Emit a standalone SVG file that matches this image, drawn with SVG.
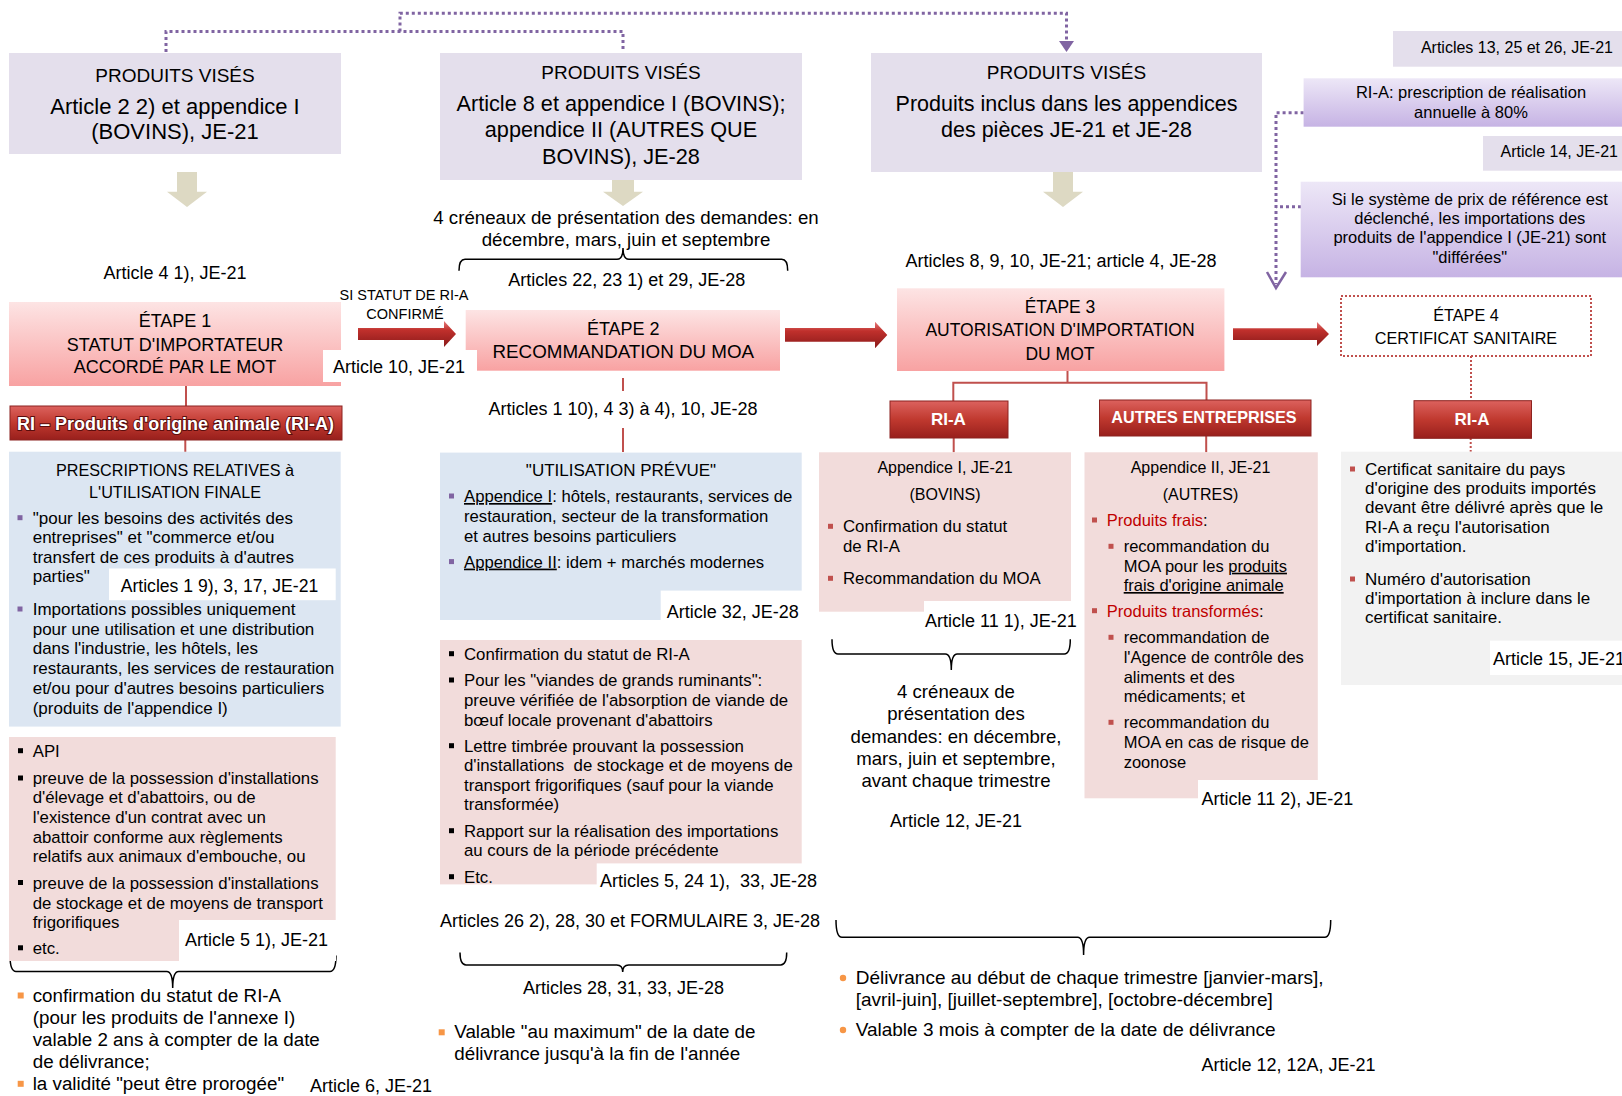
<svg xmlns="http://www.w3.org/2000/svg" width="1622" height="1096" viewBox="0 0 1622 1096">
<style>
text{font-family:"Liberation Sans",Arial,sans-serif;fill:#000}
.c{text-anchor:middle}
.e{text-anchor:end}
.lav{fill:#e4dfec}
.blue{fill:#dce6f2}
.pink{fill:#f2dcdb}
.grey{fill:#f2f2f2}
.wl{fill:#fff}
.etape{fill:url(#gEtape)}
.pg{fill:url(#gPurple)}
.rbox{fill:url(#gRed);stroke:#8c2320;stroke-width:1}
.rt{fill:#fff;font-weight:bold;text-anchor:middle}
.pd{fill:none;stroke:#8064a2;stroke-width:3;stroke-dasharray:3 3}
.rl{fill:none;stroke:#c0504d;stroke-width:2}
.rd{fill:none;stroke:#c0504d;stroke-width:2;stroke-dasharray:2 2}
.br{fill:none;stroke:#000;stroke-width:1.5}
.ra{fill:url(#gArrow)}
.ba{fill:#ddd9c3}
.bp{fill:#8064a2}
.bk{fill:#000}
.brd{fill:#c0504d}
.bo{fill:#f79646}
.red{fill:#c00000}
.u{text-decoration:underline}
.a18{font-size:18px}
.b17{font-size:17px}
</style>
<defs>
<linearGradient id="gEtape" x1="0" y1="0" x2="0" y2="1"><stop offset="0" stop-color="#fde4e4"/><stop offset="1" stop-color="#f8a2a2"/></linearGradient>
<linearGradient id="gPurple" x1="0" y1="0" x2="0" y2="1"><stop offset="0" stop-color="#ede7f7"/><stop offset="1" stop-color="#c6b3e4"/></linearGradient>
<linearGradient id="gRed" x1="0" y1="0" x2="0" y2="1"><stop offset="0" stop-color="#dc625e"/><stop offset="0.5" stop-color="#c0392f"/><stop offset="1" stop-color="#981f1c"/></linearGradient>
<linearGradient id="gArrow" x1="0" y1="0" x2="0" y2="1"><stop offset="0" stop-color="#e57b7b"/><stop offset="0.35" stop-color="#c0302c"/><stop offset="1" stop-color="#8a1a1a"/></linearGradient>
</defs>

<g id="connectors">
  <path class="pd" d="M166,52 V31.5 H623 V52"/>
  <path class="pd" d="M400,31.5 V13.3 H1066.5 V42"/>
  <polygon points="1059,41 1074,41 1066.5,52" fill="#8064a2"/>
  <path class="pd" d="M1303.6,112.7 H1276 V284"/>
  <path class="pd" d="M1301,206.7 H1276"/>
  <path d="M1267,272 L1276,288 L1286,272" fill="none" stroke="#8064a2" stroke-width="2.5"/>
  <polygon class="ba" points="177,172 197,172 197,191.7 207,191.7 187,207 167,191.7 177,191.7"/>
  <polygon class="ba" points="612,180 634,180 634,191.7 643,191.7 623,206 603,191.7 612,191.7"/>
  <polygon class="ba" points="1053,172 1073,172 1073,191.7 1083,191.7 1063,207 1043,191.7 1053,191.7"/>
  <polygon class="ra" points="358,328 444,328 444,321 456,334 444,347 444,340 358,340"/>
  <polygon class="ra" points="785,328 875,328 875,321.7 887.3,335 875,348.3 875,341.7 785,341.7"/>
  <polygon class="ra" points="1233,328.3 1317,328.3 1317,322 1329,334 1317,346 1317,340 1233,340"/>
  <path class="rl" d="M186,386 V406"/>
  <path class="rl" d="M185.3,440 V452"/>
  <path class="rl" d="M623,378 V391 M623,428 V452"/>
  <path class="rl" d="M1067.5,371 V382.7 M953.3,401 V382.7 H1206.5 V400"/>
  <path class="rl" d="M953.7,438 V452.3 M1206.2,436 V452.3"/>
  <path class="rd" d="M1471,356 V400 M1470.7,438 V451.7"/>
  <path class="br" d="M459,270.7 Q459,259.3 465,259.3 L617,259.3 Q623,259.3 623,248 Q623,259.3 629,259.3 L781.7,259.3 Q787.7,259.3 787.7,270.7"/>
  <path class="br" d="M10,955.5 Q10,971.4 16,971.4 L166.7,971.4 Q172.7,971.4 172.7,988 Q172.7,971.4 178.7,971.4 L330,971.4 Q336,971.4 336,955.5"/>
  <path class="br" d="M460,952.6 Q460,965 466,965 L616.7,965 Q622.7,965 622.7,972 Q622.7,965 628.7,965 L780.7,965 Q786.7,965 786.7,952.6"/>
  <path class="br" d="M832,639.3 Q832,654 838,654 L945.3,654 Q951.3,654 951.3,670 Q951.3,654 957.3,654 L1064.3,654 Q1070.3,654 1070.3,639.3"/>
  <path class="br" d="M836,920 Q836,937.3 842,937.3 L1077.6,937.3 Q1083.6,937.3 1083.6,955 Q1083.6,937.3 1089.6,937.3 L1324.7,937.3 Q1330.7,937.3 1330.7,920"/>
</g>

<g id="produits-a">
  <rect class="lav" x="9" y="53" width="332" height="101"/>
  <text class="c" x="175" y="81.7" font-size="19">PRODUITS VISÉS</text>
  <text class="c" x="175" y="114" font-size="22">Article 2 2) et appendice I</text>
  <text class="c" x="175" y="139" font-size="22">(BOVINS), JE-21</text>
</g>
<g id="produits-b">
  <rect class="lav" x="440" y="53" width="362" height="127"/>
  <text class="c" x="621" y="79.3" font-size="19">PRODUITS VISÉS</text>
  <text class="c" x="621" y="111" font-size="21.7">Article 8 et appendice I (BOVINS);</text>
  <text class="c" x="621" y="137.3" font-size="21.7">appendice II (AUTRES QUE</text>
  <text class="c" x="621" y="164.3" font-size="21.7">BOVINS), JE-28</text>
</g>
<g id="produits-c">
  <rect class="lav" x="871" y="53" width="391" height="119"/>
  <text class="c" x="1066.5" y="79" font-size="19">PRODUITS VISÉS</text>
  <text class="c" x="1066.5" y="110.7" font-size="21.5">Produits inclus dans les appendices</text>
  <text class="c" x="1066.5" y="136.7" font-size="21.5">des pièces JE-21 et JE-28</text>
</g>

<g id="art-13-25-26">
  <rect class="lav" x="1393" y="31" width="229" height="35.7"/>
  <text class="e" x="1613" y="53.3" font-size="16">Articles 13, 25 et 26, JE-21</text>
</g>
<g id="ria-prescription">
  <rect class="pg" x="1303.6" y="78.3" width="318.4" height="48.4"/>
  <text class="c" x="1471" y="98.3" font-size="16.5">RI-A: prescription de réalisation</text>
  <text class="c" x="1471" y="118.3" font-size="16.5">annuelle à 80%</text>
</g>
<g id="art-14">
  <rect class="lav" x="1483" y="136" width="139" height="34.7"/>
  <text class="e" x="1618" y="157.3" font-size="16">Article 14, JE-21</text>
</g>
<g id="prix-reference">
  <rect class="pg" x="1300.7" y="181.7" width="321.3" height="95.6"/>
  <text class="c" x="1469.8" y="205" font-size="16.5">Si le système de prix de référence est</text>
  <text class="c" x="1469.8" y="224.3" font-size="16.5">déclenché, les importations des</text>
  <text class="c" x="1469.8" y="243.3" font-size="16.5">produits de l'appendice I (JE-21) sont</text>
  <text class="c" x="1469.8" y="263.3" font-size="16.5">"différées"</text>
</g>

<g id="lbl-art4">
  <text class="c a18" x="175" y="279">Article 4 1), JE-21</text>
</g>
<g id="lbl-creneaux-top">
  <text class="c" x="626" y="224" font-size="18.7">4 créneaux de présentation des demandes: en</text>
  <text class="c" x="626" y="245.7" font-size="18.7">décembre, mars, juin et septembre</text>
  <text class="c a18" x="626.7" y="286">Articles 22, 23 1) et 29, JE-28</text>
</g>
<g id="lbl-art8-9-10">
  <text class="c a18" x="1061" y="266.7">Articles 8, 9, 10, JE-21; article 4, JE-28</text>
</g>
<g id="lbl-confirme">
  <text class="c" x="404" y="300" font-size="14.5">SI STATUT DE RI-A</text>
  <text class="c" x="405" y="319.3" font-size="14.5">CONFIRMÉ</text>
</g>

<g id="etape1">
  <rect class="etape" x="9" y="302" width="332" height="84"/>
  <text class="c a18" x="175" y="326.7">ÉTAPE 1</text>
  <text class="c a18" x="175" y="350.7">STATUT D'IMPORTATEUR</text>
  <text class="c a18" x="175" y="373.3">ACCORDÉ PAR LE MOT</text>
</g>
<g id="etape2">
  <rect class="etape" x="465.7" y="310" width="314.3" height="60.7"/>
  <text class="c a18" x="623.3" y="335">ÉTAPE 2</text>
  <text class="c" x="623.3" y="357.7" font-size="18.8">RECOMMANDATION DU MOA</text>
</g>
<g id="lbl-art10">
  <rect class="wl" x="323" y="350" width="154" height="32"/>
  <text class="a18" x="333" y="373">Article 10, JE-21</text>
</g>
<g id="etape3">
  <rect class="etape" x="897" y="288.3" width="327.4" height="82.7"/>
  <text class="c" x="1060" y="312.7" font-size="17.5">ÉTAPE 3</text>
  <text class="c" x="1060" y="336" font-size="17.5">AUTORISATION D'IMPORTATION</text>
  <text class="c" x="1060" y="360" font-size="17.5">DU MOT</text>
</g>
<g id="etape4">
  <rect x="1341" y="296" width="250" height="60" fill="#fff" stroke="#c0504d" stroke-width="2" stroke-dasharray="2 2"/>
  <text class="c" x="1466" y="320.7" font-size="16.2">ÉTAPE 4</text>
  <text class="c" x="1466" y="344" font-size="16.2">CERTIFICAT SANITAIRE</text>
</g>

<g id="ri-produits-bar">
  <rect class="rbox" x="10" y="406" width="332" height="34"/>
  <text x="17" y="430" font-size="19" font-weight="bold" fill="#fff" textLength="317" lengthAdjust="spacingAndGlyphs" style="fill:#fff;stroke:#5a0d0d;stroke-width:2;paint-order:stroke">RI – Produits d'origine animale (RI-A)</text>
</g>
<g id="ria-3">
  <rect class="rbox" x="890" y="401" width="118" height="37"/>
  <text class="rt" x="948.4" y="425" font-size="17">RI-A</text>
</g>
<g id="autres-entreprises">
  <rect class="rbox" x="1099.5" y="400" width="211.5" height="36"/>
  <text class="rt" x="1204" y="423.3" font-size="16.2">AUTRES ENTREPRISES</text>
</g>
<g id="ria-4">
  <rect class="rbox" x="1414" y="400.7" width="117.5" height="37.6"/>
  <text class="rt" x="1472" y="425" font-size="17">RI-A</text>
</g>

<g id="prescriptions-finale">
  <rect class="blue" x="9" y="451.7" width="331.7" height="274.9"/>
  <text class="c" x="175" y="475.6" font-size="16.2">PRESCRIPTIONS RELATIVES à</text>
  <text class="c" x="175" y="497.7" font-size="16.2">L'UTILISATION FINALE</text>
  <rect class="bp" x="17.5" y="515.2" width="5" height="5"/>
  <rect class="bp" x="17.5" y="606.5" width="5" height="5"/>
  <g class="b17">
    <text x="32.7" y="523.7">"pour les besoins des activités des</text>
    <text x="32.7" y="543.3">entreprises" et "commerce et/ou</text>
    <text x="32.7" y="563.4">transfert de ces produits à d'autres</text>
    <text x="32.7" y="582.3">parties"</text>
    <text x="32.7" y="615">Importations possibles uniquement</text>
    <text x="32.7" y="635">pour une utilisation et une distribution</text>
    <text x="32.7" y="654.2">dans l'industrie, les hôtels, les</text>
    <text x="32.7" y="674.3">restaurants, les services de restauration</text>
    <text x="32.7" y="694">et/ou pour d'autres besoins particuliers</text>
    <text x="32.7" y="714">(produits de l'appendice I)</text>
  </g>
</g>
<g id="lbl-art1-9">
  <rect class="wl" x="109" y="568.5" width="226.7" height="31.7"/>
  <text x="120.7" y="591.5" font-size="17.6">Articles 1 9), 3, 17, JE-21</text>
</g>

<g id="conditions-ria">
  <rect class="pink" x="9" y="737" width="326.7" height="224"/>
  <rect class="bk" x="18" y="748.2" width="5" height="5"/>
  <rect class="bk" x="18" y="775.5" width="5" height="5"/>
  <rect class="bk" x="18" y="880" width="5" height="5"/>
  <rect class="bk" x="18" y="945.3" width="5" height="5"/>
  <g font-size="16.8">
    <text x="32.7" y="756.7">API</text>
    <text x="32.7" y="784">preuve de la possession d'installations</text>
    <text x="32.7" y="803.2">d'élevage et d'abattoirs, ou de</text>
    <text x="32.7" y="822.8">l'existence d'un contrat avec un</text>
    <text x="32.7" y="843">abattoir conforme aux règlements</text>
    <text x="32.7" y="861.8">relatifs aux animaux d'embouche, ou</text>
    <text x="32.7" y="888.5">preuve de la possession d'installations</text>
    <text x="32.7" y="908.6">de stockage et de moyens de transport</text>
    <text x="32.7" y="928.3">frigorifiques</text>
    <text x="32.7" y="953.8">etc.</text>
  </g>
</g>
<g id="lbl-art5">
  <rect class="wl" x="179" y="920" width="157" height="41"/>
  <text class="a18" x="185" y="946.3">Article 5 1), JE-21</text>
</g>

<g id="validite-ria">
  <rect class="bo" x="17.7" y="992.5" width="6" height="6"/>
  <rect class="bo" x="17.7" y="1080.8" width="6" height="6"/>
  <g font-size="18.8">
    <text x="32.7" y="1001.5">confirmation du statut de RI-A</text>
    <text x="32.7" y="1023.7">(pour les produits de l'annexe I)</text>
    <text x="32.7" y="1045.9">valable 2 ans à compter de la date</text>
    <text x="32.7" y="1067.6">de délivrance;</text>
    <text x="32.7" y="1089.8">la validité "peut être prorogée"</text>
  </g>
  <text class="a18" x="310" y="1092">Article 6, JE-21</text>
</g>

<g id="lbl-art1-10">
  <text class="c a18" x="623" y="415">Articles 1 10), 4 3) à 4), 10, JE-28</text>
</g>

<g id="utilisation-prevue">
  <rect class="blue" x="440" y="452.6" width="361.7" height="167.4"/>
  <text class="c b17" x="621" y="475.6">"UTILISATION PRÉVUE"</text>
  <rect class="bp" x="449" y="493.5" width="5" height="5"/>
  <rect class="bp" x="449" y="559.1" width="5" height="5"/>
  <g font-size="16.7">
    <text x="464" y="502"><tspan class="u">Appendice I</tspan>: hôtels, restaurants, services de</text>
    <text x="464" y="521.6">restauration, secteur de la transformation</text>
    <text x="464" y="541.7">et autres besoins particuliers</text>
    <text x="464" y="567.6"><tspan class="u">Appendice II</tspan>: idem + marchés modernes</text>
  </g>
</g>
<g id="lbl-art32">
  <rect class="wl" x="660.7" y="590.6" width="142" height="35"/>
  <text class="a18" x="666.7" y="617.8">Article 32, JE-28</text>
</g>

<g id="conditions-moa">
  <rect class="pink" x="440" y="640" width="361.7" height="244.4"/>
  <rect class="bk" x="449" y="651.2" width="5" height="5"/>
  <rect class="bk" x="449" y="677.5" width="5" height="5"/>
  <rect class="bk" x="449" y="743.2" width="5" height="5"/>
  <rect class="bk" x="449" y="828.2" width="5" height="5"/>
  <rect class="bk" x="449" y="874.2" width="5" height="5"/>
  <g font-size="16.8">
    <text x="464" y="659.7">Confirmation du statut de RI-A</text>
    <text x="464" y="686">Pour les "viandes de grands ruminants":</text>
    <text x="464" y="705.7">preuve vérifiée de l'absorption de viande de</text>
    <text x="464" y="725.8">bœuf locale provenant d'abattoirs</text>
    <text x="464" y="751.7">Lettre timbrée prouvant la possession</text>
    <text x="464" y="771.4" xml:space="preserve">d'installations  de stockage et de moyens de</text>
    <text x="464" y="790.6">transport frigorifiques (sauf pour la viande</text>
    <text x="464" y="810.3">transformée)</text>
    <text x="464" y="836.7">Rapport sur la réalisation des importations</text>
    <text x="464" y="856.3">au cours de la période précédente</text>
    <text x="464" y="882.7">Etc.</text>
  </g>
</g>
<g id="lbl-art5-24">
  <rect class="wl" x="596.7" y="863.4" width="210" height="28"/>
  <text class="a18" x="600" y="886.9" xml:space="preserve">Articles 5, 24 1),  33, JE-28</text>
</g>
<g id="lbl-art26">
  <text class="c a18" x="630" y="927.4">Articles 26 2), 28, 30 et FORMULAIRE 3, JE-28</text>
</g>
<g id="validite-moa">
  <text class="c a18" x="623.5" y="994.4">Articles 28, 31, 33, JE-28</text>
  <rect class="bo" x="438.7" y="1029.3" width="6" height="6"/>
  <text x="454.3" y="1038.3" font-size="18.8">Valable "au maximum" de la date de</text>
  <text x="454.3" y="1060.1" font-size="18.8">délivrance jusqu'à la fin de l'année</text>
</g>

<g id="appendice-1">
  <rect class="pink" x="819" y="452.3" width="252" height="159.4"/>
  <text class="c" x="945" y="473.3" font-size="16">Appendice I, JE-21</text>
  <text class="c" x="945" y="500" font-size="16">(BOVINS)</text>
  <rect class="brd" x="828" y="523.8" width="5" height="5"/>
  <rect class="brd" x="828" y="575.8" width="5" height="5"/>
  <text x="843" y="532.3" font-size="16.8">Confirmation du statut</text>
  <text x="843" y="552.3" font-size="16.8">de RI-A</text>
  <text x="843" y="584.3" font-size="16.8">Recommandation du MOA</text>
</g>
<g id="lbl-art11-1">
  <rect class="wl" x="924" y="601" width="158" height="31"/>
  <text class="a18" x="925" y="626.7">Article 11 1), JE-21</text>
</g>
<g id="creneaux-ria">
  <text class="c" x="956" y="698.3" font-size="18.6">4 créneaux de</text>
  <text class="c" x="956" y="720" font-size="18.6">présentation des</text>
  <text class="c" x="956" y="743.3" font-size="18.6">demandes: en décembre,</text>
  <text class="c" x="956" y="765" font-size="18.6">mars, juin et septembre,</text>
  <text class="c" x="956" y="786.7" font-size="18.6">avant chaque trimestre</text>
  <text class="c a18" x="956" y="826.7">Article 12, JE-21</text>
</g>

<g id="appendice-2">
  <rect class="pink" x="1084.5" y="452.3" width="233.3" height="346"/>
  <text class="c" x="1200.5" y="473.3" font-size="16">Appendice II, JE-21</text>
  <text class="c" x="1200.5" y="500" font-size="16">(AUTRES)</text>
  <rect class="brd" x="1092" y="517.5" width="5" height="5"/>
  <rect class="brd" x="1092" y="608.2" width="5" height="5"/>
  <rect class="brd" x="1108.5" y="543.8" width="5" height="5"/>
  <rect class="brd" x="1108.5" y="634.8" width="5" height="5"/>
  <rect class="brd" x="1108.5" y="719.8" width="5" height="5"/>
  <g font-size="16.5">
    <text x="1106.8" y="526"><tspan class="red">Produits frais</tspan>:</text>
    <text x="1123.7" y="552.3">recommandation du</text>
    <text x="1123.7" y="571.7">MOA pour les <tspan class="u">produits</tspan></text>
    <text x="1123.7" y="591"><tspan class="u">frais d'origine animale</tspan></text>
    <text x="1106.8" y="616.7"><tspan class="red">Produits transformés</tspan>:</text>
    <text x="1123.7" y="643.3">recommandation de</text>
    <text x="1123.7" y="663.3">l'Agence de contrôle des</text>
    <text x="1123.7" y="683.3">aliments et des</text>
    <text x="1123.7" y="702.3">médicaments; et</text>
    <text x="1123.7" y="728.3">recommandation du</text>
    <text x="1123.7" y="748.3">MOA en cas de risque de</text>
    <text x="1123.7" y="768.3">zoonose</text>
  </g>
</g>
<g id="lbl-art11-2">
  <rect class="wl" x="1198" y="780" width="162" height="32"/>
  <text class="a18" x="1201.5" y="805">Article 11 2), JE-21</text>
</g>

<g id="certificat">
  <rect class="grey" x="1341" y="451.7" width="281" height="233.3"/>
  <rect class="brd" x="1350" y="466.5" width="5" height="5"/>
  <rect class="brd" x="1350" y="576.5" width="5" height="5"/>
  <g font-size="17">
    <text x="1365" y="475">Certificat sanitaire du pays</text>
    <text x="1365" y="494">d'origine des produits importés</text>
    <text x="1365" y="513.3">devant être délivré après que le</text>
    <text x="1365" y="532.7">RI-A a reçu l'autorisation</text>
    <text x="1365" y="551.7">d'importation.</text>
    <text x="1365" y="585">Numéro d'autorisation</text>
    <text x="1365" y="604.3">d'importation à inclure dans le</text>
    <text x="1365" y="623.3">certificat sanitaire.</text>
  </g>
</g>
<g id="lbl-art15">
  <rect class="wl" x="1490" y="640.7" width="132" height="34.3"/>
  <text class="a18" x="1493" y="665">Article 15, JE-21</text>
</g>

<g id="delivrance-autorisation">
  <circle class="bo" cx="843" cy="978" r="3.2"/>
  <circle class="bo" cx="843" cy="1030" r="3.2"/>
  <text x="855.7" y="984" font-size="19">Délivrance au début de chaque trimestre [janvier-mars],</text>
  <text x="855.7" y="1005.7" font-size="19">[avril-juin], [juillet-septembre], [octobre-décembre]</text>
  <text x="855.7" y="1036" font-size="19">Valable 3 mois à compter de la date de délivrance</text>
  <text class="a18" x="1201.4" y="1070.7">Article 12, 12A, JE-21</text>
</g>
</svg>
